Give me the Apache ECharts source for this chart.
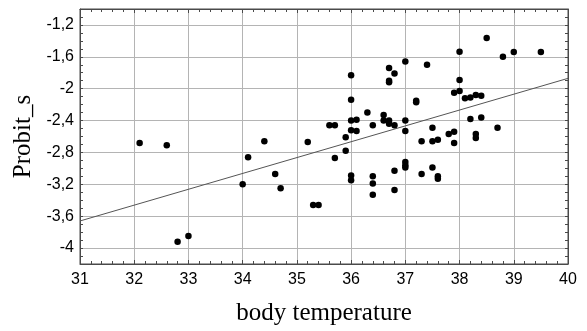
<!DOCTYPE html>
<html>
<head>
<meta charset="utf-8">
<script src="https://cdn.jsdelivr.net/npm/echarts@6/dist/echarts.min.js"></script>
<style>
  html, body { margin: 0; padding: 0; background: #fff; }
  #chart { width: 587px; height: 331px; }
</style>
</head>
<body>
<div id="chart"></div>
<script>
// body temperature vs Probit_s
const temps = [
  32.1, 32.6, 32.8, 33.0, 34.0, 34.1, 34.4, 34.6, 34.7, 35.2,
  35.3, 35.4, 35.6, 35.7, 35.7, 35.9, 35.9, 36.0, 36.0, 36.0,
  36.1, 36.0, 36.1, 36.0, 36.0, 36.3, 36.4, 36.4, 36.4, 36.4,
  36.6, 36.6, 36.7, 36.7, 36.8, 36.7, 36.8, 36.7, 36.7, 36.8,
  36.8, 37.0, 37.0, 37.0, 37.0, 37.0, 37.0, 37.2, 37.2, 37.3,
  37.3, 37.4, 37.5, 37.5, 37.5, 37.6, 37.6, 37.6, 37.8, 37.9,
  37.9, 37.9, 38.0, 38.0, 38.0, 38.1, 38.2, 38.3, 38.4, 38.2,
  38.4, 38.3, 38.3, 38.5, 38.7, 38.8, 39.0, 39.5
];
const probits = [
  -2.68, -2.71, -3.92, -3.85, -3.20, -2.86, -2.66, -3.07, -3.25, -2.67,
  -3.46, -3.46, -2.46, -2.46, -2.87, -2.61, -2.78, -1.83, -2.14, -2.40,
  -2.39, -2.52, -2.53, -3.09, -3.15, -2.30, -2.46, -3.10, -3.19, -3.33,
  -2.33, -2.40, -2.40, -2.44, -2.46, -1.74, -1.81, -1.90, -1.92, -3.03,
  -3.27, -1.66, -2.40, -2.53, -2.92, -2.96, -2.99, -2.15, -2.17, -2.66,
  -3.07, -1.70, -2.49, -2.66, -2.99, -2.64, -3.10, -3.13, -2.57, -2.54,
  -2.68, -2.05, -2.03, -1.89, -1.535, -2.12, -2.11, -2.08, -2.09, -2.38,
  -2.36, -2.57, -2.62, -1.365, -2.49, -1.60, -1.54, -1.54
];

// fitted line end points
const fitX = [31, 40];
const fitY = [-3.66, -1.87];

const yMajorTicks = [-4, -3.6, -3.2, -2.8, -2.4, -2, -1.6, -1.2];
const yMinorTicks = [];
for (let v = -42; v <= -10; v++) yMinorTicks.push(v / 10);

const frameColor = '#4a4a4a';
const gridColor = '#b4b4b4';
const tickFont = { color: '#000', fontFamily: 'Liberation Sans', fontSize: 16 };
const nameFont = { color: '#000', fontFamily: 'Liberation Serif', fontSize: 25 };

const chart = echarts.init(document.getElementById('chart'));

const points = temps.map((t, i) => [t, probits[i]]);
const fitLine = fitX.map((x, i) => [x, fitY[i]]);

const xBase = {
  type: 'value',
  min: 31,
  max: 40,
  interval: 1,
  axisLine: { show: true, onZero: false, lineStyle: { color: frameColor } },
  axisTick: { show: true, inside: true, length: 4, lineStyle: { color: frameColor } },
  minorTick: { show: true, splitNumber: 5, length: 3, lineStyle: { color: frameColor } },
};

const yBase = {
  type: 'value',
  min: -4.2,
  max: -1.0,
  axisLine: { show: true, onZero: false, lineStyle: { color: frameColor } },
  axisTick: { show: true, inside: true, length: 3, customValues: yMinorTicks, lineStyle: { color: frameColor } },
  splitLine: { show: false },
};

chart.setOption({
  animation: false,
  backgroundColor: '#fff',
  grid: { left: 80, right: 19, top: 9, bottom: 59, show: true, borderColor: frameColor, borderWidth: 1 },
  xAxis: [
    Object.assign({}, xBase, {
      position: 'bottom',
      name: 'body temperature',
      nameLocation: 'middle',
      nameGap: 37,
      nameTextStyle: nameFont,
      axisLabel: Object.assign({ margin: 8 }, tickFont),
      splitLine: { show: true, lineStyle: { color: gridColor, width: 1 } },
    }),
    Object.assign({}, xBase, {
      position: 'top',
      axisLabel: { show: false },
      splitLine: { show: false },
    }),
  ],
  yAxis: [
    Object.assign({}, yBase, {
      position: 'left',
      name: 'Probit_s',
      nameLocation: 'middle',
      nameGap: 40,
      nameTextStyle: nameFont,
      axisLabel: Object.assign({
        margin: 6,
        customValues: yMajorTicks,
        formatter: (v) => String(v).replace('.', ','),
      }, tickFont),
    }),
    Object.assign({}, yBase, {
      position: 'right',
      axisLabel: { show: false },
    }),
    {
      type: 'value',
      min: -4.2,
      max: -1.0,
      position: 'left',
      axisLine: { show: false },
      axisLabel: { show: false },
      axisTick: { show: false, customValues: yMajorTicks },
      splitLine: { show: true, lineStyle: { color: gridColor, width: 1 } },
    },
  ],
  series: [
    {
      type: 'line',
      data: fitLine,
      xAxisIndex: 0,
      yAxisIndex: 0,
      symbol: 'none',
      lineStyle: { color: '#555', width: 1 },
      z: 3,
    },
    {
      type: 'scatter',
      data: points,
      xAxisIndex: 0,
      yAxisIndex: 0,
      symbol: 'circle',
      symbolSize: 6.5,
      itemStyle: { color: '#000', opacity: 1 },
      z: 4,
    },
  ],
});
</script>
</body>
</html>
